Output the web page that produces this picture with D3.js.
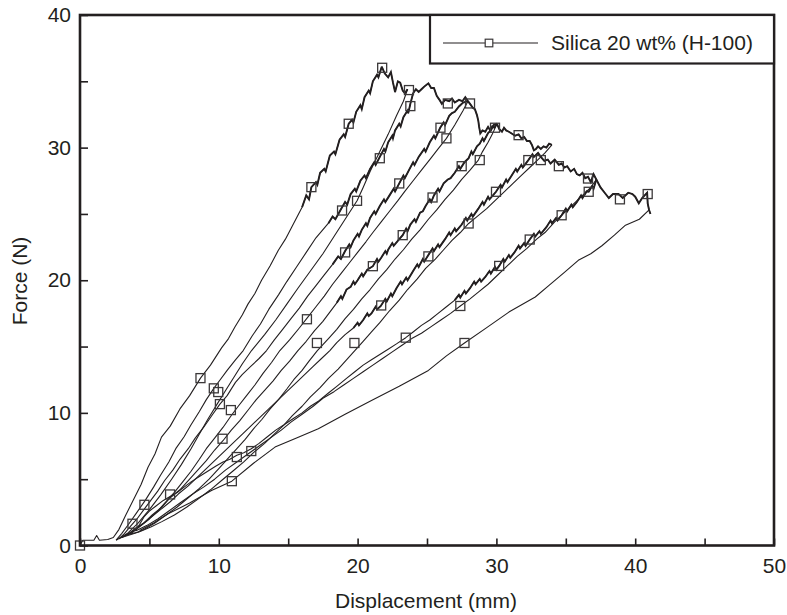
<!DOCTYPE html>
<html><head><meta charset="utf-8">
<script src="https://cdn.jsdelivr.net/npm/d3@7"></script>
<style>body{margin:0;background:#fff}svg{display:block}</style>
</head><body>
<svg id="c" width="787" height="615"></svg>
<script>
// ---------- data (displacement mm, force N) ----------
const seriesName = "Silica 20 wt% (H-100)";
const xTickValues = [0,5,10,15,20,25,30,35,40,45,50];
const xTickLabels = [0,10,20,30,40,50];
const yTickValues = [0,5,10,15,20,25,30,35,40];
const yTickLabels = [0,10,20,30,40];

const load1 = [[0,0],[0.2,0.4],[1.0,0.4],[1.2,0.75],[1.4,0.4],[2.0,0.45],[2.4,0.6],[2.8,1.2],[3.3,2.3],[3.95,3.65],[4.4,4.6],[4.9,5.9],[5.4,6.9],[5.87,8.17],[6.5,9.0],[7.2,10.3],[7.9,11.3],[8.68,12.62],[9.4,13.6],[10.2,14.9],[10.7,15.6],[11.16,16.48],[11.7,17.4],[12.1,18.2],[12.6,19.0],[13.08,20.0],[13.7,21.1],[14.29,22.26],[14.8,23.1],[15.25,24.0],[16.0,25.5],[16.3,26.4],[16.5,26.1],[16.67,27.02],[17.0,27.4],[17.1,27.2],[17.3,28.1],[17.6,28.4],[17.7,28.2],[18.0,29.4],[18.3,29.7],[18.4,29.5],[18.7,30.6],[19.0,31.0],[19.1,30.8],[19.36,31.8],[19.6,32.1],[19.7,31.9],[19.9,32.7],[20.2,33.2],[20.3,32.9],[20.5,33.8],[20.8,34.3],[20.9,34.1],[21.1,35.0],[21.4,35.5],[21.5,35.3],[21.74,36.1]];
const env1 = [[21.74,36.1],[21.95,35.6],[22.2,35.3],[22.4,35.7],[22.55,34.9],[22.7,34.2],[22.9,35.0],[23.07,34.9],[23.25,34.3],[23.4,34.1],[23.6,34.4]];
const unload1 = [[23.6,34.4],[23.3,33.5],[22.8,32.4],[22.2,31.0],[21.6,29.7],[20.9,28.2],[20.4,27.0],[19.96,26.0],[19.1,24.6],[18.3,23.3],[17.5,22.0],[16.6,20.7],[15.7,19.4],[14.9,18.2],[14.1,17.0],[13.3,15.9],[12.36,14.7],[11.7,13.7],[11.1,12.7],[10.5,11.7],[9.9,10.7],[9.2,9.5],[8.6,8.4],[8.0,7.3],[7.3,6.1],[6.6,5.0],[5.8,3.8],[5.0,2.7],[4.2,1.7],[3.4,0.9],[2.6,0.4]];
const load2 = [[2.6,0.4],[3.0,0.9],[3.5,1.6],[4.1,2.5],[4.7,3.4],[5.3,4.4],[5.8,5.3],[6.4,6.3],[6.9,7.3],[7.5,8.2],[8.0,9.1],[8.6,10.1],[9.1,11.0],[9.64,11.85],[10.1,12.5],[10.6,13.2],[11.2,14.0],[11.76,14.7],[12.4,15.8],[13.0,16.7],[13.6,17.8],[14.3,18.9],[14.9,19.9],[15.6,21.0],[16.3,22.1],[17.0,23.2],[17.9,24.3],[18.2,24.8],[18.4,24.6],[18.88,25.5],[19.1,25.9],[19.25,25.7],[19.5,26.5],[19.8,26.9],[19.9,26.7],[20.2,27.5],[20.5,27.9],[20.6,27.7],[20.9,28.4],[21.2,28.9],[21.3,28.7],[21.6,29.3],[21.9,29.9],[22.0,29.7],[22.2,30.4],[22.5,30.9],[22.55,30.7],[22.7,31.3],[23.0,31.8],[23.1,31.6],[23.3,32.3],[23.6,32.8],[23.65,32.6],[23.8,33.3],[24.0,34.1]];
const env2 = [[24.0,34.1],[24.2,34.4],[24.4,34.2],[24.6,34.4],[24.8,34.6],[25.1,34.85],[25.3,34.5],[25.5,34.5],[25.7,33.9],[25.9,33.6],[26.07,33.3],[26.3,33.6],[26.6,33.5],[26.8,33.7],[27.0,33.4],[27.3,33.6],[27.55,33.5],[27.76,33.8],[27.95,33.5]];
const unload2 = [[27.95,33.5],[27.6,32.8],[27.0,31.7],[26.4,30.7],[25.8,29.9],[25.2,29.1],[24.6,28.3],[24.0,27.5],[23.4,26.7],[22.9,26.0],[22.3,25.2],[21.7,24.4],[21.1,23.6],[20.6,22.9],[20.0,22.1],[19.4,21.3],[18.8,20.5],[18.2,19.7],[17.6,18.8],[17.0,18.0],[16.4,17.2],[15.8,16.4],[15.1,15.5],[14.4,14.7],[13.8,13.8],[13.2,13.0],[12.6,12.1],[12.0,11.3],[11.4,10.5],[10.9,9.8],[10.3,8.9],[9.7,8.1],[9.1,7.3],[8.6,6.5],[8.0,5.6],[7.4,4.8],[6.8,4.0],[6.2,3.3],[5.6,2.6],[5.0,2.0],[4.4,1.5],[3.8,1.0],[2.8,0.5]];
const load3 = [[2.8,0.5],[3.2,0.9],[3.6,1.4],[4.1,2.0],[4.6,2.7],[5.1,3.4],[5.6,4.1],[6.1,4.9],[6.7,5.7],[7.2,6.5],[7.8,7.3],[8.3,8.1],[8.9,8.9],[9.5,9.8],[10.08,10.66],[10.6,11.3],[11.2,12.3],[11.7,12.9],[12.3,13.5],[12.9,14.1],[13.44,14.7],[14.0,15.5],[14.6,16.3],[15.2,17.1],[15.8,17.9],[16.4,18.8],[17.0,19.6],[17.6,20.4],[18.2,21.2],[18.6,21.8],[18.8,21.6],[19.1,22.2],[19.4,22.7],[19.5,22.5],[19.7,23.0],[20.0,23.5],[20.1,23.3],[20.3,23.8],[20.6,24.3],[20.7,24.1],[20.9,24.7],[21.2,25.2],[21.3,25.0],[21.6,25.6],[21.9,26.1],[22.0,25.9],[22.3,26.4],[22.6,26.9],[22.7,26.7],[23.0,27.3],[23.3,27.9],[23.4,27.7],[23.7,28.3],[24.0,28.9],[24.1,28.7],[24.4,29.3],[24.8,29.9],[24.9,29.7],[25.2,30.4],[25.5,30.9],[25.6,30.7],[25.95,31.5],[26.2,31.9],[26.3,31.7],[26.6,32.4],[26.8,32.6],[27.0,32.7],[27.3,33.1],[27.6,33.4],[27.95,33.5]];
const env3 = [[27.95,33.5],[28.1,33.3],[28.3,33.0],[28.45,32.9],[28.6,32.45],[28.7,32.0],[28.75,31.6],[28.84,31.07],[29.0,31.3],[29.2,31.2],[29.4,31.57],[29.55,31.3],[29.7,31.6],[29.85,31.5],[30.04,31.8]];
const unload3 = [[30.04,31.8],[29.7,31.0],[29.4,30.4],[29.0,29.7],[28.7,29.06],[28.1,28.3],[27.5,27.6],[26.9,26.8],[26.3,26.1],[25.7,25.3],[25.1,24.6],[24.5,23.8],[23.9,23.1],[23.3,22.3],[22.7,21.6],[22.1,20.8],[21.5,20.1],[20.9,19.3],[20.3,18.6],[19.7,17.8],[19.1,17.1],[18.5,16.3],[17.9,15.6],[17.1,14.7],[16.5,13.9],[16.0,13.2],[15.4,12.5],[14.9,11.8],[14.3,11.0],[13.7,10.3],[13.1,9.5],[12.5,8.8],[11.9,8.0],[11.3,7.3],[10.6,6.5],[10.0,5.8],[9.3,5.0],[8.6,4.3],[7.8,3.6],[7.0,2.9],[6.2,2.3],[5.4,1.7],[4.6,1.2],[3.9,0.9],[3.0,0.6]];
const load4 = [[3.0,0.6],[3.5,0.9],[4.0,1.3],[4.6,1.7],[5.2,2.3],[5.9,2.9],[6.5,3.6],[7.2,4.2],[7.8,4.9],[8.5,5.7],[9.1,6.4],[9.7,7.2],[10.3,7.9],[10.9,8.7],[11.5,9.4],[12.1,10.2],[12.7,11.0],[13.3,11.7],[13.9,12.4],[14.5,13.2],[15.1,13.9],[15.7,14.7],[16.3,15.4],[16.9,16.2],[17.5,16.9],[18.0,17.6],[18.5,18.3],[18.8,18.8],[18.9,18.6],[19.2,19.3],[19.5,19.5],[19.7,19.9],[19.8,19.7],[20.0,20.0],[20.3,20.5],[20.4,20.3],[20.7,20.8],[21.1,21.06],[21.4,21.6],[21.5,21.4],[21.7,21.7],[22.0,22.2],[22.1,22.0],[22.2,22.3],[22.5,22.8],[22.6,22.6],[23.0,23.1],[23.25,23.4],[23.5,23.9],[23.6,23.7],[23.8,24.2],[24.1,24.6],[24.2,24.4],[24.5,25.1],[24.7,25.2],[24.9,25.6],[25.2,26.1],[25.3,25.9],[25.5,26.4],[25.8,26.9],[25.9,26.7],[26.2,27.3],[26.5,27.6],[26.7,27.7],[27.0,28.1],[27.3,28.6],[27.4,28.4],[27.7,28.9],[28.0,29.2],[28.2,29.7],[28.3,29.5],[28.6,30.1],[28.8,30.3],[29.0,30.7],[29.1,30.5],[29.4,31.1],[29.6,31.3],[29.8,31.7],[30.04,31.8]];
const env4 = [[30.04,31.8],[30.2,31.4],[30.4,31.2],[30.55,31.5],[30.7,31.3],[30.9,31.2],[31.1,31.07],[31.35,30.9],[31.6,31.0],[31.8,30.7],[32.0,30.8],[32.2,30.5],[32.4,30.5],[32.56,30.2],[32.7,29.8],[32.85,29.9],[33.0,30.1],[33.2,29.9],[33.4,30.1],[33.6,30.0],[33.8,30.3],[34.0,30.2]];
const unload4 = [[34.0,30.2],[33.5,29.6],[33.0,29.1],[32.4,28.5],[31.8,27.9],[31.2,27.3],[30.6,26.7],[29.9,26.0],[29.3,25.4],[28.6,24.8],[28.0,24.28],[27.4,23.6],[26.8,23.0],[26.2,22.3],[25.6,21.6],[24.9,20.9],[24.3,20.1],[23.6,19.3],[23.0,18.5],[22.3,17.7],[21.6,16.8],[21.0,16.1],[20.4,15.4],[19.8,14.7],[19.2,14.0],[18.6,13.3],[17.9,12.6],[17.3,11.9],[16.6,11.2],[16.0,10.5],[15.3,9.8],[14.7,9.1],[14.0,8.4],[13.3,7.7],[12.5,7.0],[11.8,6.3],[11.0,5.6],[10.2,4.9],[9.4,4.2],[8.5,3.5],[7.7,2.9],[6.8,2.3],[5.9,1.8],[5.1,1.4],[4.2,1.0],[3.3,0.8]];
const load5 = [[3.3,0.8],[3.7,1.0],[4.1,1.3],[4.6,1.7],[5.2,2.2],[5.8,2.7],[6.5,3.3],[7.1,3.9],[7.8,4.5],[8.4,5.1],[9.1,5.8],[9.7,6.4],[10.4,7.1],[11.0,7.7],[11.7,8.4],[12.3,9.0],[13.0,9.7],[13.6,10.3],[14.3,11.0],[14.9,11.6],[15.6,12.3],[16.2,12.9],[16.8,13.5],[17.4,14.1],[18.0,14.7],[18.5,15.3],[19.1,15.9],[19.7,16.4],[20.0,16.8],[20.1,16.6],[20.4,17.0],[20.7,17.5],[20.8,17.3],[21.0,17.5],[21.3,18.0],[21.4,17.8],[21.67,18.06],[22.0,18.6],[22.1,18.4],[22.4,19.0],[22.5,18.8],[22.8,19.4],[23.1,19.9],[23.2,19.7],[23.5,20.2],[23.6,20.0],[24.0,20.7],[24.3,21.2],[24.4,21.0],[24.7,21.6],[24.8,21.4],[25.1,21.9],[25.4,22.4],[25.5,22.2],[25.8,22.7],[25.9,22.5],[26.3,23.1],[26.6,23.6],[26.7,23.4],[27.0,23.9],[27.1,23.7],[27.5,24.2],[27.8,24.7],[27.9,24.5],[28.2,25.0],[28.3,24.8],[28.7,25.4],[29.0,25.9],[29.1,25.7],[29.4,26.3],[29.5,26.1],[29.97,26.67],[30.3,27.2],[30.4,27.0],[30.7,27.6],[30.8,27.4],[31.1,27.9],[31.4,28.4],[31.5,28.2],[31.8,28.7],[31.9,28.5],[32.3,29.06],[32.6,29.5],[32.7,29.3],[33.0,29.6],[33.2,29.3]];
const env5 = [[33.2,29.3],[33.45,29.0],[33.7,29.1],[33.9,28.8],[34.2,29.1],[34.5,28.7],[34.7,28.8],[34.9,28.5],[35.1,28.6],[35.35,28.2],[35.6,28.4],[35.8,28.0],[36.0,27.9],[36.2,28.1],[36.4,27.7],[36.6,27.8],[36.8,27.4],[37.0,28.0],[37.2,27.6]];
const unload5 = [[37.2,27.6],[36.8,27.0],[36.3,26.5],[35.6,25.8],[34.9,25.1],[34.2,24.4],[33.5,23.6],[32.9,23.1],[32.2,22.4],[31.5,21.8],[30.8,21.1],[30.0,20.3],[29.4,19.7],[28.7,19.1],[28.1,18.6],[27.4,18.06],[26.7,17.5],[26.0,17.0],[25.3,16.5],[24.6,16.0],[23.9,15.6],[23.2,15.1],[22.5,14.6],[21.8,14.1],[21.1,13.6],[20.4,13.1],[19.7,12.6],[19.0,12.1],[18.3,11.6],[17.5,11.1],[16.8,10.5],[16.0,9.9],[15.2,9.3],[14.5,8.7],[13.7,8.1],[12.9,7.5],[12.1,6.9],[11.3,6.3],[10.5,5.7],[9.7,5.0],[8.9,4.4],[8.0,3.8],[7.2,3.2],[6.4,2.6],[5.6,2.0],[4.8,1.5],[4.0,1.1]];
const load6 = [[4.0,1.1],[4.3,1.6],[4.64,2.2],[5.0,2.6],[5.5,3.0],[6.0,3.4],[6.49,3.7],[7.0,4.0],[7.5,4.4],[8.0,4.8],[8.6,5.2],[9.2,5.6],[9.8,6.0],[10.3,6.3],[10.8,6.5],[11.3,6.8],[11.8,7.0],[12.34,7.3],[12.9,7.7],[13.5,8.2],[14.1,8.7],[14.7,9.1],[15.4,9.6],[16.0,10.0],[16.6,10.5],[17.2,10.9],[17.9,11.5],[18.5,12.0],[19.2,12.6],[19.8,13.1],[20.4,13.6],[21.0,14.0],[21.6,14.4],[22.2,14.8],[22.8,15.2],[23.47,15.67],[24.0,16.1],[24.6,16.6],[25.2,17.0],[25.8,17.5],[26.4,18.0],[27.0,18.5],[27.3,18.9],[27.4,18.7],[27.7,19.2],[27.8,19.0],[28.1,19.4],[28.4,19.9],[28.5,19.7],[28.8,20.1],[28.9,19.9],[29.2,20.25],[29.5,20.7],[29.6,20.5],[29.9,21.0],[30.0,20.8],[30.2,21.08],[30.5,21.6],[30.6,21.4],[30.9,21.9],[31.0,21.7],[31.3,22.1],[31.6,22.6],[31.7,22.4],[32.0,22.8],[32.1,22.6],[32.4,23.07],[32.7,23.5],[32.8,23.3],[33.1,23.7],[33.2,23.5],[33.6,24.0],[33.9,24.5],[34.0,24.3],[34.3,24.7],[34.4,24.5],[34.7,24.9],[35.0,25.4],[35.1,25.2],[35.4,25.7],[35.5,25.5],[35.8,25.9],[36.1,26.4],[36.2,26.2],[36.5,26.7],[36.65,26.67],[36.9,27.1],[37.0,26.9],[37.2,27.6]];
const env6 = [[37.2,27.6],[37.5,27.0],[37.8,26.6],[38.1,26.2],[38.4,26.5],[38.8,26.5],[39.1,26.2],[39.5,26.6],[39.8,26.5],[40.0,26.3],[40.26,25.8],[40.5,26.2],[40.86,26.6],[40.9,25.8],[41.0,25.3],[41.1,25.0]];
const unload6 = [[41.0,25.3],[40.3,24.6],[39.3,24.15],[38.5,23.4],[37.6,22.6],[36.8,22.0],[35.9,21.5],[34.9,20.6],[33.77,19.6],[32.8,18.74],[30.9,17.6],[29.2,16.35],[27.7,15.27],[26.4,14.3],[25.1,13.2],[23.0,12.0],[21.0,10.94],[19.1,9.9],[17.17,8.8],[15.6,8.1],[14.05,7.42],[12.5,6.2],[10.94,4.85],[9.47,4.15],[7.9,3.2],[6.35,2.39],[5.3,1.7],[4.3,1.13]];

const markers = [[0,0],[8.68,12.62],[9.64,11.85],[9.96,11.57],[10.08,10.66],[10.87,10.21],[10.27,8.05],[11.3,6.67],[12.34,7.12],[10.94,4.85],[6.49,3.85],[4.64,3.07],[3.78,1.64],[16.35,17.06],[17.07,15.27],[21.77,36.02],[19.36,31.8],[16.67,27.02],[21.6,29.2],[18.88,25.26],[19.96,25.99],[19.1,22.1],[21.1,21.06],[23.0,27.3],[23.7,34.34],[23.8,33.13],[26.5,33.33],[28.1,33.33],[25.97,31.5],[26.4,30.7],[29.9,31.5],[31.6,30.94],[27.5,28.6],[28.8,29.06],[25.4,26.24],[23.25,23.4],[21.7,18.1],[28.0,24.28],[25.1,21.8],[29.97,26.67],[32.3,29.06],[33.2,29.06],[34.5,28.6],[36.6,27.67],[36.65,26.67],[34.7,24.9],[32.4,23.07],[30.2,21.08],[27.4,18.06],[38.9,26.1],[40.9,26.5],[19.77,15.27],[23.47,15.67],[27.7,15.27]];

// ---------- drawing ----------
const ink = "#231f20";
const font = "'Liberation Sans', Arial, Helvetica, sans-serif";
const svg = d3.select("#c");
const x = d3.scaleLinear().domain([0,50]).range([80,774]);
const y = d3.scaleLinear().domain([0,40]).range([545.5,15]);
const line = d3.line().x(d=>x(d[0])).y(d=>y(d[1]));

// branch styles: [data, force above which the recorded curve is dense/noisy]
const branches = [
  [load1, 25.5],[env1, 0],[unload1, 99],
  [load2, 24],[env2, 0],[unload2, 99],
  [load3, 21],[env3, 0],[unload3, 99],
  [load4, 18.3],[env4, 0],[unload4, 99],
  [load5, 16.4],[env5, 0],[unload5, 99],
  [load6, 18.5],[env6, 0],[unload6, 99]
];
const g = svg.append("g");
branches.forEach(([data, thr]) => {
  g.append("path").attr("d", line(data)).attr("fill","none")
    .attr("stroke", ink).attr("stroke-width", 1.1).attr("stroke-linejoin","round");
  const noisy = data.filter(d => d[1] >= thr);
  if (noisy.length > 1) {
    g.append("path").attr("d", line(noisy)).attr("fill","none")
      .attr("stroke", ink).attr("stroke-width", 1.9).attr("stroke-linejoin","miter");
  }
});

const ms = 9;
g.selectAll("rect.m").data(markers).join("rect").attr("class","m")
  .attr("x", d=>x(d[0])-ms/2).attr("y", d=>y(d[1])-ms/2)
  .attr("width", ms).attr("height", ms)
  .attr("fill","none").attr("stroke","#3b3839").attr("stroke-width",1.3);

// axes
const xAxis = d3.axisBottom(x).tickValues(xTickValues).tickSizeInner(-7).tickSizeOuter(0).tickPadding(13)
  .tickFormat(d => xTickLabels.includes(d) ? d : "");
const yAxis = d3.axisLeft(y).tickValues(yTickValues).tickSizeInner(-8).tickSizeOuter(0).tickPadding(9)
  .tickFormat(d => yTickLabels.includes(d) ? d : "");
const gx = svg.append("g").attr("transform","translate(0,545.5)").call(xAxis);
const gy = svg.append("g").attr("transform","translate(80,0)").call(yAxis);
[gx, gy].forEach(a => {
  a.select(".domain").remove();
  a.selectAll("line").attr("stroke", ink).attr("stroke-width", 1.6);
  a.selectAll("text").attr("fill", ink).style("font-family", font).style("font-size","21px");
});

// frame
svg.append("rect").attr("x",80).attr("y",15).attr("width",694).attr("height",530.5)
  .attr("fill","none").attr("stroke",ink).attr("stroke-width",2.6);

// legend
const lg = svg.append("g");
lg.append("rect").attr("x",430).attr("y",15).attr("width",344).attr("height",48.5)
  .attr("fill","#fff").attr("stroke",ink).attr("stroke-width",2.2);
lg.append("line").attr("x1",443).attr("x2",538).attr("y1",43).attr("y2",43)
  .attr("stroke",ink).attr("stroke-width",1.1);
lg.append("rect").attr("x",489-3.8).attr("y",43-3.8).attr("width",7.6).attr("height",7.6)
  .attr("fill","#fff").attr("stroke","#3b3839").attr("stroke-width",1.2);
lg.append("text").attr("x",551).attr("y",50).text(seriesName)
  .attr("fill",ink).style("font-family",font).style("font-size","21px");

// axis titles
svg.append("text").attr("x",426).attr("y",608).attr("text-anchor","middle")
  .attr("fill",ink).style("font-family",font).style("font-size","21px").text("Displacement (mm)");
svg.append("text").attr("transform","translate(27,281) rotate(-90)").attr("text-anchor","middle")
  .attr("fill",ink).style("font-family",font).style("font-size","21px").text("Force (N)");
</script>
</body></html>
